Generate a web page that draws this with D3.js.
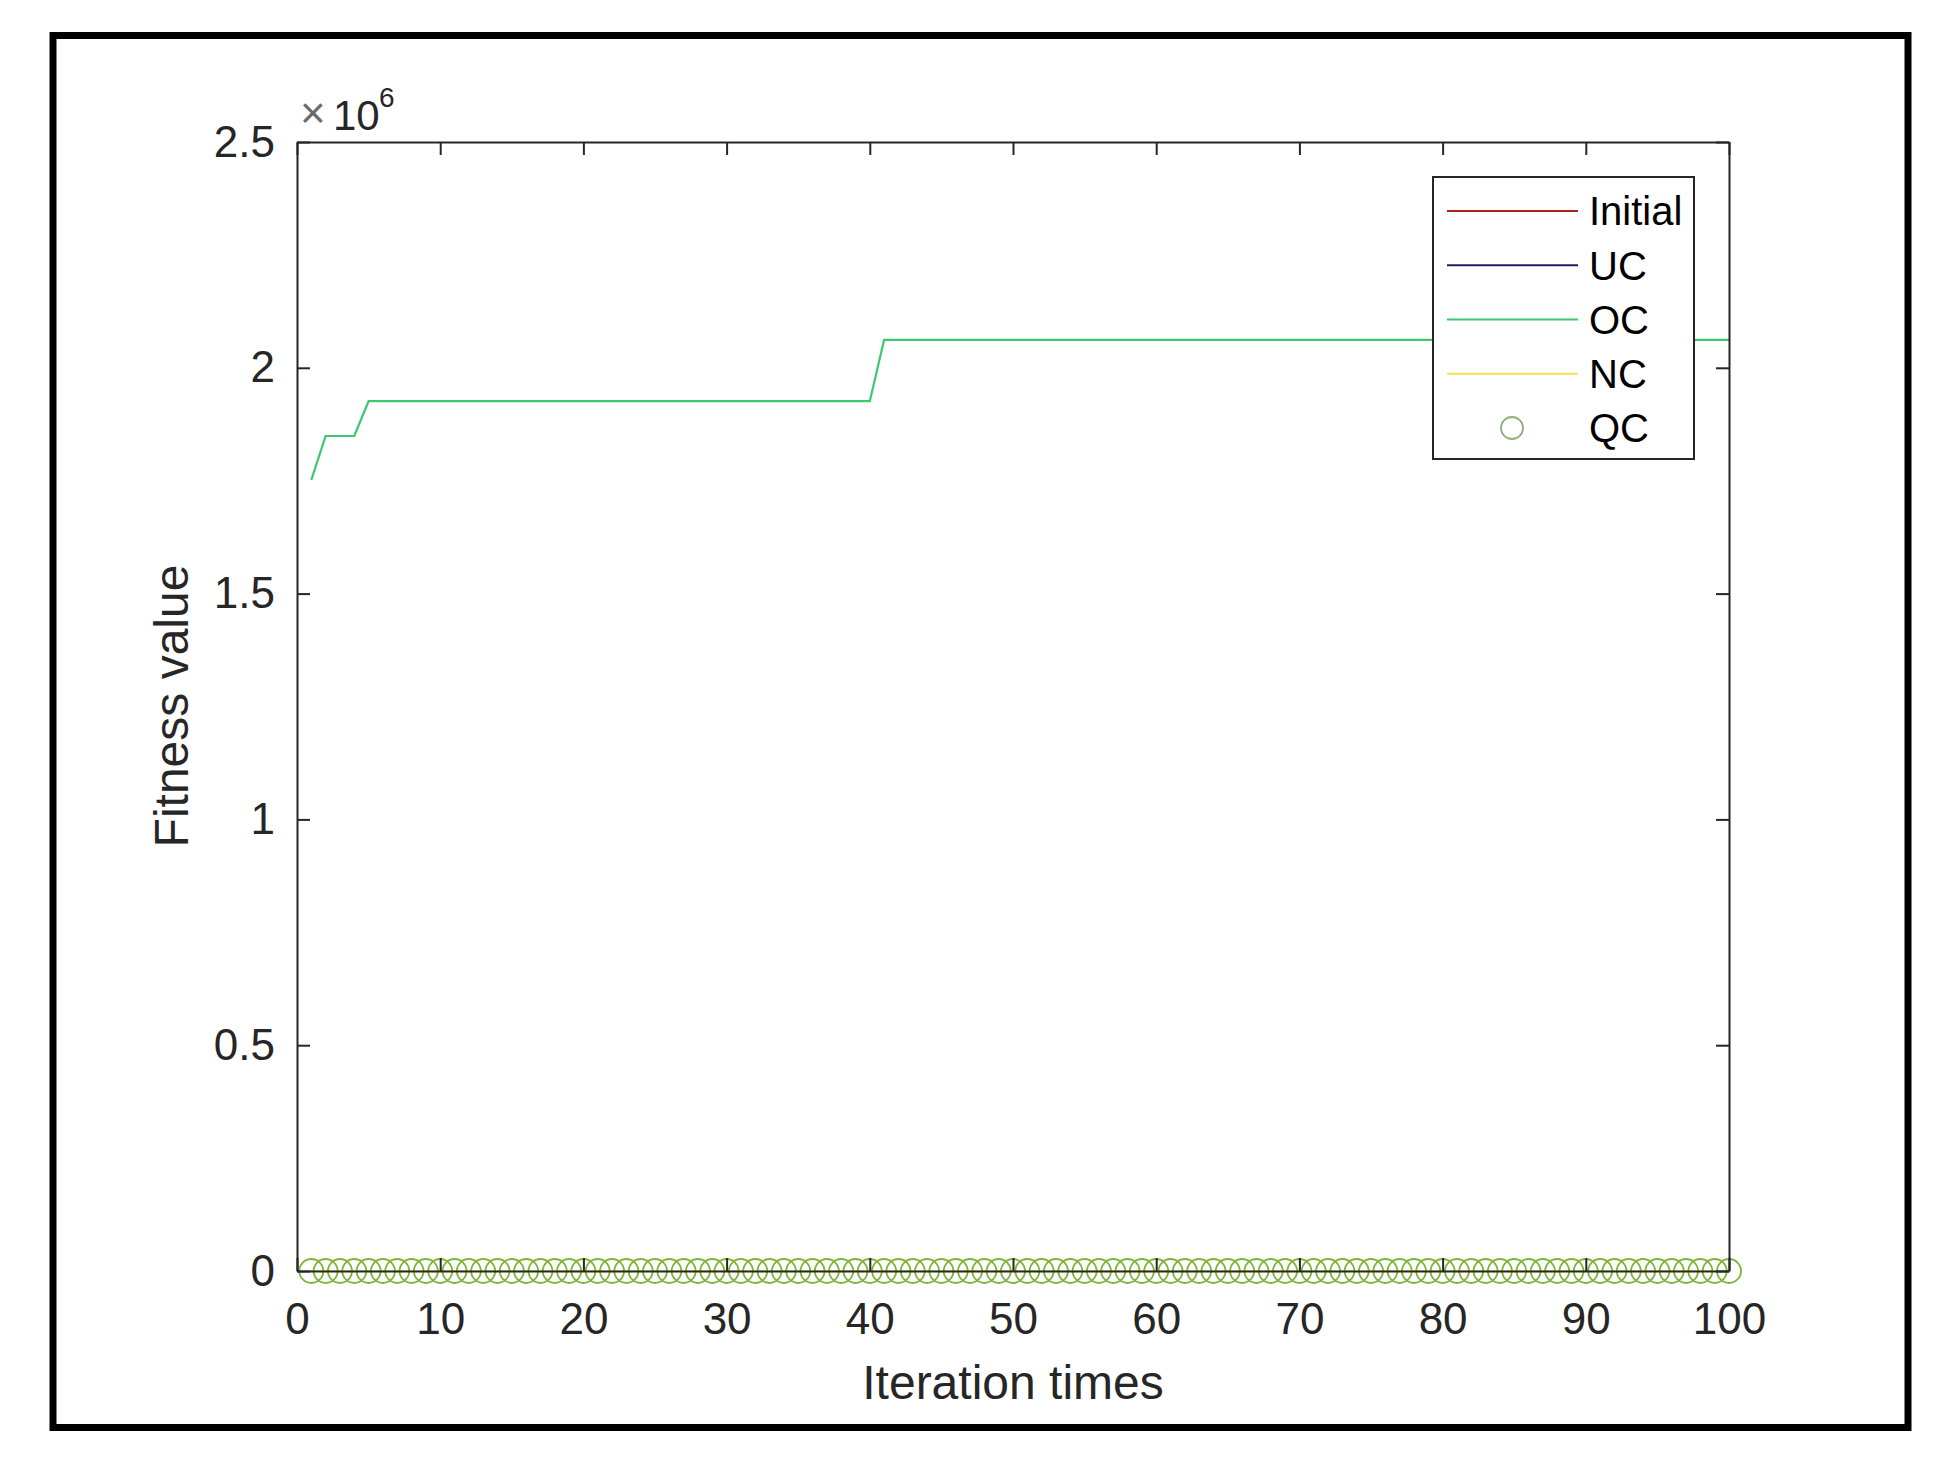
<!DOCTYPE html>
<html>
<head>
<meta charset="utf-8">
<script src="https://cdn.jsdelivr.net/npm/d3@7"></script>
<style>
  html, body { margin: 0; padding: 0; background: #fff; }
  svg { display: block; }
  text { font-family: "Liberation Sans", Arial, Helvetica, sans-serif; }
</style>
</head>
<body>
<svg id="chart" width="1942" height="1465"></svg>
<script>
// ---------------- data ----------------
const iterations = [1,2,3,4,5,6,7,8,9,10,11,12,13,14,15,16,17,18,19,20,21,22,23,24,25,26,27,28,29,30,31,32,33,34,35,36,37,38,39,40,41,42,43,44,45,46,47,48,49,50,51,52,53,54,55,56,57,58,59,60,61,62,63,64,65,66,67,68,69,70,71,72,73,74,75,76,77,78,79,80,81,82,83,84,85,86,87,88,89,90,91,92,93,94,95,96,97,98,99,100];

const initialValues = [0,0,0,0,0,0,0,0,0,0,0,0,0,0,0,0,0,0,0,0,0,0,0,0,0,0,0,0,0,0,0,0,0,0,0,0,0,0,0,0,0,0,0,0,0,0,0,0,0,0,0,0,0,0,0,0,0,0,0,0,0,0,0,0,0,0,0,0,0,0,0,0,0,0,0,0,0,0,0,0,0,0,0,0,0,0,0,0,0,0,0,0,0,0,0,0,0,0,0,0];
const ucValues = [0,0,0,0,0,0,0,0,0,0,0,0,0,0,0,0,0,0,0,0,0,0,0,0,0,0,0,0,0,0,0,0,0,0,0,0,0,0,0,0,0,0,0,0,0,0,0,0,0,0,0,0,0,0,0,0,0,0,0,0,0,0,0,0,0,0,0,0,0,0,0,0,0,0,0,0,0,0,0,0,0,0,0,0,0,0,0,0,0,0,0,0,0,0,0,0,0,0,0,0];
const ocValues = [1752000,1849000,1849000,1849000,1926000,1926000,1926000,1926000,1926000,1926000,
  1926000,1926000,1926000,1926000,1926000,1926000,1926000,1926000,1926000,1926000,
  1926000,1926000,1926000,1926000,1926000,1926000,1926000,1926000,1926000,1926000,
  1926000,1926000,1926000,1926000,1926000,1926000,1926000,1926000,1926000,1926000,
  2062000,2062000,2062000,2062000,2062000,2062000,2062000,2062000,2062000,2062000,
  2062000,2062000,2062000,2062000,2062000,2062000,2062000,2062000,2062000,2062000,
  2062000,2062000,2062000,2062000,2062000,2062000,2062000,2062000,2062000,2062000,
  2062000,2062000,2062000,2062000,2062000,2062000,2062000,2062000,2062000,2062000,
  2062000,2062000,2062000,2062000,2062000,2062000,2062000,2062000,2062000,2062000,
  2062000,2062000,2062000,2062000,2062000,2062000,2062000,2062000,2062000,2062000];
const ncValues = [0,0,0,0,0,0,0,0,0,0,0,0,0,0,0,0,0,0,0,0,0,0,0,0,0,0,0,0,0,0,0,0,0,0,0,0,0,0,0,0,0,0,0,0,0,0,0,0,0,0,0,0,0,0,0,0,0,0,0,0,0,0,0,0,0,0,0,0,0,0,0,0,0,0,0,0,0,0,0,0,0,0,0,0,0,0,0,0,0,0,0,0,0,0,0,0,0,0,0,0];
const qcValues = [0,0,0,0,0,0,0,0,0,0,0,0,0,0,0,0,0,0,0,0,0,0,0,0,0,0,0,0,0,0,0,0,0,0,0,0,0,0,0,0,0,0,0,0,0,0,0,0,0,0,0,0,0,0,0,0,0,0,0,0,0,0,0,0,0,0,0,0,0,0,0,0,0,0,0,0,0,0,0,0,0,0,0,0,0,0,0,0,0,0,0,0,0,0,0,0,0,0,0,0];

const seriesNames = ["Initial", "UC", "OC", "NC", "QC"];
const xTickValues = [0,10,20,30,40,50,60,70,80,90,100];
const yTickValues = [0,500000,1000000,1500000,2000000,2500000];
const xLabel = "Iteration times";
const yLabel = "Fitness value";

// ---------------- layout ----------------
const svg = d3.select("#chart");
const L = 297, R = 1729, T = 142, B = 1271;
const textColor = "#262626";
const colors = { Initial: "#b01e1e", UC: "#1c1c6a", OC: "#3cc870", NC: "#f2e64a", QC: "#7fb43a" };

// outer frame
svg.append("rect").attr("x", 53).attr("y", 35.5).attr("width", 1855).attr("height", 1392)
  .attr("fill", "none").attr("stroke", "#000").attr("stroke-width", 7);

const x = d3.scaleLinear().domain([0, 100]).range([L, R]);
const y = d3.scaleLinear().domain([0, 2500000]).range([B, T]);

svg.append("rect").attr("x", L).attr("y", T).attr("width", R - L).attr("height", B - T).attr("fill", "#fff");

const seriesData = {
  Initial: initialValues, UC: ucValues, OC: ocValues, NC: ncValues, QC: qcValues
};

const line = d3.line().x(d => x(d[0])).y(d => y(d[1]));
const plot = svg.append("g");

["Initial", "UC", "NC", "OC"].forEach(name => {
  plot.append("path")
    .datum(iterations.map((it, i) => [it, seriesData[name][i]]))
    .attr("fill", "none")
    .attr("stroke", colors[name])
    .attr("stroke-width", 2.2)
    .attr("d", line);
});

// QC circles
plot.selectAll("circle.qc")
  .data(iterations.map((it, i) => [it, qcValues[i]]))
  .join("circle")
  .attr("class", "qc")
  .attr("cx", d => x(d[0]))
  .attr("cy", d => y(d[1]))
  .attr("r", 12)
  .attr("fill", "none")
  .attr("stroke", colors.QC)
  .attr("stroke-width", 1.8);

// axes
function styleAxis(g) {
  g.selectAll("path.domain").attr("stroke", textColor).attr("stroke-width", 2).attr("fill", "none");
  g.selectAll(".tick line").attr("stroke", textColor).attr("stroke-width", 2);
  g.selectAll(".tick text").attr("fill", textColor).style("font-size", "44px")
    .style("font-family", '"Liberation Sans", Arial, Helvetica, sans-serif');
}

const fmtY = d => d3.format("~g")(d / 1e6);

svg.append("g").attr("transform", `translate(0,${B})`)
  .call(d3.axisBottom(x).tickValues(xTickValues).tickSizeInner(-13).tickSizeOuter(0).tickPadding(32).tickFormat(d3.format("d")))
  .call(styleAxis);
svg.append("g").attr("transform", `translate(0,${T})`)
  .call(d3.axisTop(x).tickValues(xTickValues).tickSizeInner(-13).tickSizeOuter(0).tickFormat(""))
  .call(styleAxis);
svg.append("g").attr("transform", `translate(${L},0)`)
  .call(d3.axisLeft(y).tickValues(yTickValues).tickSizeInner(-13).tickSizeOuter(0).tickPadding(22).tickFormat(fmtY))
  .call(styleAxis);
svg.append("g").attr("transform", `translate(${R},0)`)
  .call(d3.axisRight(y).tickValues(yTickValues).tickSizeInner(-13).tickSizeOuter(0).tickFormat(""))
  .call(styleAxis);

// exponent label
svg.append("text").attr("x", 300).attr("y", 128).attr("fill", "#6a6a6a").style("font-size", "44px").text("×");
svg.append("text").attr("x", 333).attr("y", 130).attr("fill", textColor).style("font-size", "42px").text("10");
svg.append("text").attr("x", 379).attr("y", 107).attr("fill", textColor).style("font-size", "28px").text("6");

// axis labels
svg.append("text").attr("x", (L + R) / 2).attr("y", 1399).attr("text-anchor", "middle")
  .attr("fill", textColor).style("font-size", "48px").text(xLabel);
svg.append("text").attr("transform", "translate(188,706) rotate(-90)").attr("text-anchor", "middle")
  .attr("fill", textColor).style("font-size", "48px").text(yLabel);

// legend
const legend = svg.append("g");
legend.append("rect").attr("x", 1433).attr("y", 177).attr("width", 261).attr("height", 282)
  .attr("fill", "#fff").attr("stroke", textColor).attr("stroke-width", 2);
const rowY = d3.scalePoint().domain(seriesNames).range([211, 428]);
seriesNames.forEach(name => {
  const yy = rowY(name);
  if (name === "QC") {
    legend.append("circle").attr("cx", 1512).attr("cy", yy).attr("r", 11)
      .attr("fill", "none").attr("stroke", "#8fae7a").attr("stroke-width", 1.8);
  } else {
    legend.append("line").attr("x1", 1447).attr("x2", 1578).attr("y1", yy).attr("y2", yy)
      .attr("stroke", colors[name]).attr("stroke-width", 2.2);
  }
  legend.append("text").attr("x", 1589).attr("y", yy).attr("dy", "0.36em")
    .attr("fill", "#000").style("font-size", "40px").text(name);
});
</script>
</body>
</html>
